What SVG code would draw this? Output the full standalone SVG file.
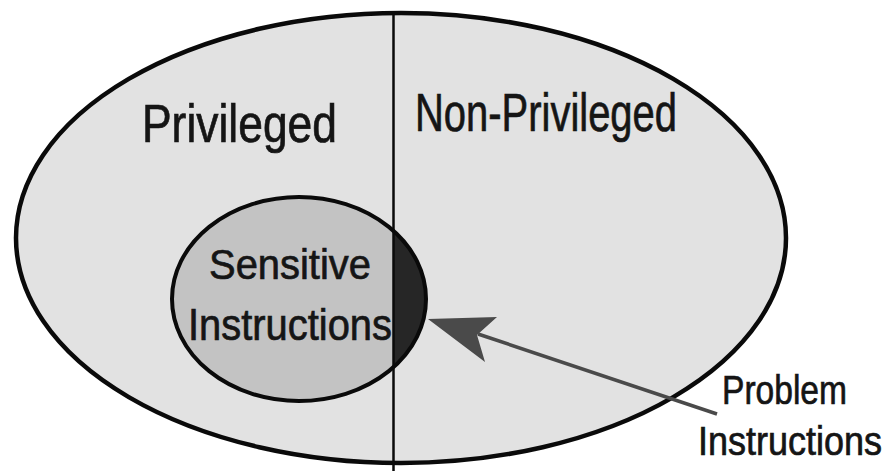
<svg xmlns="http://www.w3.org/2000/svg" width="892" height="471" viewBox="0 0 892 471">
<style>
.lbl{font-family:"Liberation Sans",Arial,sans-serif;fill:#151515;stroke:#151515;stroke-width:0.7;}
</style>
<defs>
<clipPath id="smallClip"><ellipse cx="299" cy="299" rx="127" ry="102"/></clipPath>
</defs>
<rect width="892" height="471" fill="#ffffff"/>
<g id="outer">
<ellipse cx="401" cy="238" rx="385" ry="225" fill="#e2e2e2" stroke="#0a0a0a" stroke-width="4.5"/>
</g>
<g id="sensitive">
<ellipse cx="299" cy="299" rx="127" ry="102" fill="#c3c3c3"/>
<rect x="393" y="190" width="40" height="220" fill="#262626" clip-path="url(#smallClip)"/>
<ellipse cx="299" cy="299" rx="127" ry="102" fill="none" stroke="#0a0a0a" stroke-width="4"/>
<text class="lbl" x="290" y="279" font-size="42" text-anchor="middle" textLength="162" lengthAdjust="spacingAndGlyphs">Sensitive</text>
<text class="lbl" x="290" y="340" font-size="44" text-anchor="middle" textLength="204" lengthAdjust="spacingAndGlyphs">Instructions</text>
</g>
<g id="divider">
<line x1="393.5" y1="13" x2="393.5" y2="471" stroke="#0a0a0a" stroke-width="2.5"/>
</g>
<g id="privileged">
<text class="lbl" x="142" y="142" font-size="53" textLength="195" lengthAdjust="spacingAndGlyphs">Privileged</text>
</g>
<g id="nonprivileged">
<text class="lbl" x="415" y="131" font-size="53" textLength="262" lengthAdjust="spacingAndGlyphs">Non-Privileged</text>
</g>
<g id="connectors">
<line x1="717" y1="414" x2="478" y2="334" stroke="#4a4a4a" stroke-width="3.5"/>
<polygon points="428,319 497,317 477,335 485,362" fill="#4a4a4a"/>
</g>
<g id="problem">
<text class="lbl" x="722" y="404" font-size="40" textLength="125" lengthAdjust="spacingAndGlyphs">Problem</text>
<text class="lbl" x="698" y="455" font-size="40" textLength="184" lengthAdjust="spacingAndGlyphs">Instructions</text>
</g>
</svg>
